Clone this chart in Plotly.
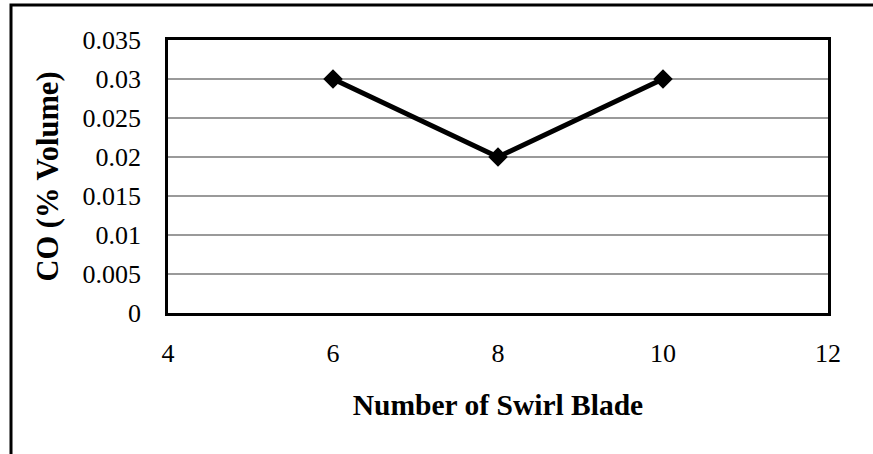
import plotly.graph_objects as go

blades = [6, 8, 10]
co_volume = [0.03, 0.02, 0.03]
x_ticks = [4, 6, 8, 10, 12]
y_ticks = [0, 0.005, 0.01, 0.015, 0.02, 0.025, 0.03, 0.035]
y_tick_text = ["0", "0.005", "0.01", "0.015", "0.02", "0.025", "0.03", "0.035"]

W, H = 873, 454
L, R, T, B = 168, 45, 40, 141
pw, ph = W - L - R, H - T - B

fig = go.Figure()
fig.add_trace(go.Scatter(
    x=blades, y=co_volume, mode="lines+markers",
    line=dict(color="black", width=5),
    marker=dict(symbol="diamond", size=15, color="black"),
    showlegend=False,
))

font_tick = dict(family="Liberation Serif, Times New Roman, serif", size=26, color="black")
font_xtitle = dict(family="Liberation Serif, Times New Roman, serif", size=29.5, color="black")
font_ytitle = dict(family="Liberation Serif, Times New Roman, serif", size=30.5, color="black")

fig.update_layout(
    width=W, height=H,
    margin=dict(l=L, r=R, t=T, b=B, autoexpand=False),
    paper_bgcolor="white", plot_bgcolor="white",
    xaxis=dict(
        range=[4, 12], tickvals=x_ticks, ticktext=[str(v) for v in x_ticks],
        showgrid=False, zeroline=False, showline=True, mirror=True,
        linecolor="black", linewidth=2.5, ticks="", tickfont=font_tick,
        ticklabelstandoff=15,
        title=dict(text="<b>Number of Swirl Blade</b>", font=font_xtitle, standoff=28),
        automargin=False,
    ),
    yaxis=dict(
        range=[0, 0.035], tickvals=y_ticks, ticktext=y_tick_text,
        showgrid=True, gridcolor="#9a9a9a", gridwidth=1.5, zeroline=False,
        showline=True, mirror=True, linecolor="black", linewidth=2.5,
        ticks="", tickfont=font_tick, ticklabelstandoff=19,
        title=dict(text="<b>CO (% Volume)</b>", font=font_ytitle, standoff=15),
        automargin=False,
    ),
)

# outer chart border (right/bottom edges fall outside the picture)
fig.add_shape(type="rect", xref="paper", yref="paper",
              x0=(11 - L) / pw, x1=(W + 10 - L) / pw,
              y0=(H - B - (H + 10)) / ph, y1=(H - B - 5) / ph,
              line=dict(color="black", width=3), layer="below")

fig.write_html("out.html", config={"displayModeBar": False})

# remove the default page margin so the figure sits at the window's top-left
with open("out.html", "r", encoding="utf-8") as f:
    html = f.read()
html = html.replace("<head>", "<head><style>html,body{margin:0;padding:0;overflow:hidden;}</style>", 1)
with open("out.html", "w", encoding="utf-8") as f:
    f.write(html)
